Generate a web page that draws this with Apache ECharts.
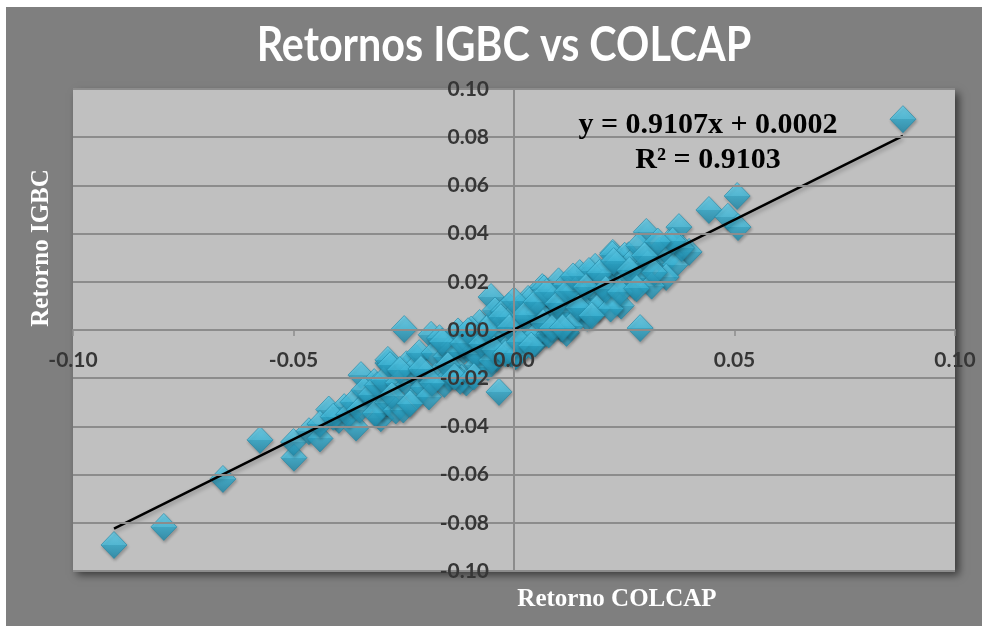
<!DOCTYPE html>
<html>
<head>
<meta charset="utf-8">
<script src="https://cdn.jsdelivr.net/npm/echarts@6/dist/echarts.min.js"></script>
<style>
  html, body { margin: 0; padding: 0; background: #ffffff; }
  #chart { position: absolute; left: 6px; top: 7px; width: 976px; height: 619px; }
</style>
</head>
<body>
<div id="chart"></div>
<script>
// retornos diarios
const colcapRet = [
  // extremos
  -0.0907, -0.0794, -0.0660, -0.0576, -0.0499, -0.0500, -0.0465, -0.0440, -0.0420, -0.0397,
  -0.0358, -0.0385, -0.0347, -0.0302, -0.0286, -0.0317, -0.0300, -0.0330, -0.0222, -0.0249,
  -0.0034, -0.0052, -0.0286, -0.0188, 0.0286, 0.0882, 0.0442, 0.0506, 0.0485, 0.0508,
  0.0397, 0.0374, 0.0300, 0.0350, 0.0330, 0.0224, 0.0260, 0.0290, 0.0240,
  -0.0440, -0.0410, -0.0375, -0.0365, -0.0350, -0.0340, -0.0325, -0.0315, -0.0310,
  0.0340, 0.0355, 0.0365, 0.0380, 0.0345, 0.0360,
  // nube central
  -0.0296, -0.0287, -0.0281, -0.0268, -0.0263, -0.0251, -0.0244, -0.0239, -0.0231, -0.0219,
  -0.0215, -0.0206, -0.0198, -0.0193, -0.0181, -0.0177, -0.0169, -0.0158, -0.0154, -0.0147,
  -0.0139, -0.0133, -0.0127, -0.0119, -0.0113, -0.0108, -0.0101, -0.0094, -0.0089, -0.0083,
  -0.0078, -0.0071, -0.0066, -0.0059, -0.0055, -0.0048, -0.0043, -0.0039, -0.0032, -0.0027,
  -0.0021, -0.0017, -0.0012, -0.0008, -0.0004,
  0.0003, 0.0009, 0.0014, 0.0021, 0.0025, 0.0032, 0.0037, 0.0041, 0.0048, 0.0053,
  0.0061, 0.0064, 0.0072, 0.0077, 0.0083, 0.0088, 0.0096, 0.0101, 0.0107, 0.0112,
  0.0119, 0.0124, 0.0131, 0.0137, 0.0142, 0.0149, 0.0153, 0.0161, 0.0166, 0.0172,
  0.0179, 0.0184, 0.0191, 0.0197, 0.0204, 0.0211, 0.0216, 0.0223, 0.0229, 0.0236,
  0.0243, 0.0251, 0.0258, 0.0266, 0.0274, 0.0283, 0.0291, 0.0303, 0.0312, 0.0326,
  -0.0143, -0.0122, -0.0097, -0.0086, -0.0069, -0.0051, -0.0036, -0.0024, -0.0015, -0.0005,
  0.0006, 0.0017, 0.0028, 0.0035, 0.0044, 0.0057, 0.0068, 0.0079, 0.0091, 0.0104,
  0.0116, 0.0128, 0.0139, 0.0157, 0.0170, 0.0188, 0.0201, 0.0219, 0.0233, 0.0247,
  -0.0277, -0.0259, -0.0236, -0.0211, -0.0186, -0.0163, -0.0150, -0.0135, -0.0116, -0.0104,
  -0.0091, -0.0074, -0.0062, -0.0045, -0.0030, -0.0019, -0.0010, 0.0000, 0.0012, 0.0023,
  0.0039, 0.0050, 0.0066, 0.0074, 0.0086, 0.0099, 0.0110, 0.0121, 0.0134, 0.0146,
  0.0163, 0.0176, 0.0194, 0.0208, 0.0226, 0.0240, 0.0262, 0.0278, 0.0296, 0.0318
];
const igbcRet = [
  -0.0892, -0.0817, -0.0618, -0.0456, -0.0530, -0.0465, -0.0420, -0.0450, -0.0330, -0.0373,
  -0.0405, -0.0320, -0.0187, -0.0366, -0.0137, -0.0216, -0.0320, -0.0290, -0.0116, 0.0004,
  -0.0257, 0.0137, -0.0124, -0.0020, 0.0008, 0.0875, 0.0498, 0.0556, 0.0470, 0.0427,
  0.0324, 0.0427, 0.0407, 0.0360, 0.0330, 0.0320, 0.0310, 0.0250, 0.0260,
  -0.0390, -0.0360, -0.0350, -0.0300, -0.0330, -0.0250, -0.0270, -0.0345, -0.0230,
  0.0280, 0.0310, 0.0270, 0.0340, 0.0220, 0.0370,
  -0.0209, -0.0301, -0.0146, -0.0334, -0.0219, -0.0330, -0.0142, -0.0227, -0.0170, -0.0269,
  -0.0096, -0.0237, -0.0180, -0.0276, -0.0095, -0.0191, -0.0034, -0.0224, -0.0110, -0.0194,
  -0.0066, -0.0161, -0.0006, -0.0198, -0.0083, -0.0218, -0.0012, -0.0096, -0.0041, -0.0146,
  0.0029, -0.0115, -0.0060, -0.0154, 0.0020, -0.0074, 0.0081, -0.0115, 0.0001, -0.0085,
  0.0041, -0.0055, 0.0099, -0.0097, 0.0016,
  -0.0110, 0.0088, 0.0003, 0.0059, -0.0047, 0.0129, -0.0016, 0.0037, -0.0056, 0.0118,
  0.0026, 0.0178, -0.0014, 0.0100, 0.0016, 0.0140, 0.0047, 0.0202, 0.0007, 0.0122,
  -0.0012, 0.0193, 0.0109, 0.0165, 0.0059, 0.0236, 0.0089, 0.0147, 0.0051, 0.0227,
  0.0133, 0.0262, 0.0094, 0.0209, 0.0126, 0.0252, 0.0157, 0.0313, 0.0118, 0.0235,
  0.0101, 0.0308, 0.0225, 0.0282, 0.0179, 0.0350, 0.0215, 0.0276, 0.0184, 0.0367,
  -0.0090, -0.0211, 0.0002, -0.0098, -0.0013, -0.0126, -0.0023, 0.0078, -0.0074, 0.0055,
  -0.0105, 0.0045, -0.0015, 0.0122, -0.0030, 0.0072, 0.0172, -0.0018, 0.0133, 0.0075,
  0.0186, 0.0016, 0.0166, 0.0093, 0.0245, 0.0091, 0.0193, 0.0089, 0.0272, 0.0195,
  -0.0272, -0.0166, -0.0305, -0.0162, -0.0219, -0.0048, -0.0147, -0.0193, -0.0056, -0.0005,
  -0.0193, -0.0057, 0.0004, -0.0081, 0.0053, -0.0097, 0.0011, 0.0122, -0.0049, 0.0061,
  -0.0065, 0.0116, 0.0030, 0.0157, 0.0008, 0.0110, 0.0010, 0.0160, 0.0222, 0.0093,
  0.0178, 0.0060, 0.0237, 0.0169, 0.0286, 0.0158, 0.0248, 0.0173, 0.0309, 0.0239
];

// línea de tendencia (del ajuste mostrado)
const slope = 0.9107;
const intercept = 0.0002;
const rSquared = 0.9103;

const points = colcapRet.map((x, i) => [x, igbcRet[i]]);
const xMin = Math.min(...colcapRet);
const xMax = Math.max(...colcapRet);
const trend = [[xMin, slope * xMin + intercept], [xMax, slope * xMax + intercept]];

const myChart = echarts.init(document.getElementById('chart'));

const gridLeft = 67, gridRight = 27, gridTop = 82, gridBottom = 55;
const gridW = 976 - gridLeft - gridRight;
const gridH = 619 - gridTop - gridBottom;

const labelStyle = {
    color: '#363636',
    fontFamily: 'Lato, "Open Sans", sans-serif',
    fontWeight: 'bold',
    fontSize: 21,
    hideOverlap: false,
    showMinLabel: true,
    showMaxLabel: true,
    formatter: (v) => v.toFixed(2),
};
const serifFont = '"Liberation Serif", "Times New Roman", serif';

const option = {
    backgroundColor: '#7f7f7f',
    animation: false,
    grid: {
        show: true,
        left: gridLeft,
        right: gridRight,
        top: gridTop,
        bottom: gridBottom,
        backgroundColor: '#c0c0c0',
        borderWidth: 0,
        shadowColor: 'rgba(0,0,0,0.55)',
        shadowBlur: 8,
        shadowOffsetX: 4,
        shadowOffsetY: 4,
    },
    // los ejes se cruzan en cero, como en Excel
    xAxis: {
        type: 'value',
        min: -0.1,
        max: 0.1,
        interval: 0.05,
        position: 'bottom',
        offset: -gridH / 2,
        z: 10,
        axisLine: { onZero: false, lineStyle: { color: '#8c8c8c', width: 2 } },
        axisTick: { show: true, length: 6, lineStyle: { color: '#8c8c8c', width: 1.5 } },
        axisLabel: Object.assign({ margin: 20, interval: 0 }, labelStyle),
        splitLine: { show: false },
    },
    yAxis: {
        type: 'value',
        min: -0.1,
        max: 0.1,
        interval: 0.02,
        position: 'left',
        offset: -gridW / 2,
        z: 10,
        axisLine: { onZero: false, lineStyle: { color: '#8c8c8c', width: 2 } },
        axisTick: { show: false },
        axisLabel: Object.assign({ margin: 25 }, labelStyle),
        splitLine: { show: true, lineStyle: { color: '#8c8c8c', width: 2 } },
    },
    graphic: [
        {
            type: 'text',
            x: 498,
            y: 39,
            scaleX: 0.86,
            style: {
                text: 'Retornos IGBC vs COLCAP',
                fill: '#ffffff',
                font: 'bold 48px Lato, "Open Sans", sans-serif',
                textAlign: 'center',
                textVerticalAlign: 'middle',
            },
        },
        {
            type: 'text',
            x: 36,
            y: 241,
            rotation: Math.PI / 2,
            style: {
                text: 'Retorno IGBC',
                fill: '#ffffff',
                font: 'bold 25px ' + serifFont,
                textAlign: 'center',
                textVerticalAlign: 'middle',
            },
        },
        {
            type: 'text',
            x: 611,
            y: 593,
            style: {
                text: 'Retorno COLCAP',
                fill: '#ffffff',
                font: 'bold 25px ' + serifFont,
                textAlign: 'center',
                textVerticalAlign: 'middle',
            },
        },
        {
            type: 'text',
            x: 702,
            y: 118,
            z: 100,
            style: {
                text: 'y = ' + slope.toFixed(4) + 'x + ' + intercept.toFixed(4),
                fill: '#000000',
                font: 'bold 30px ' + serifFont,
                textAlign: 'center',
                textVerticalAlign: 'middle',
            },
        },
        {
            type: 'text',
            x: 702,
            y: 153,
            z: 100,
            style: {
                text: 'R² = ' + rSquared.toFixed(4),
                fill: '#000000',
                font: 'bold 30px ' + serifFont,
                textAlign: 'center',
                textVerticalAlign: 'middle',
            },
        },
    ],
    series: [
        {
            type: 'scatter',
            data: points,
            symbol: 'diamond',
            symbolSize: [26, 27],
            itemStyle: {
                color: new echarts.graphic.LinearGradient(0, 0, 0, 1, [
                    { offset: 0, color: '#62d2f0' },
                    { offset: 0.5, color: '#42bfe1' },
                    { offset: 0.5, color: '#2eaacd' },
                    { offset: 1, color: '#1f8aab' },
                ]),
                borderColor: '#2388a6',
                borderWidth: 0.8,
                shadowColor: 'rgba(0,0,0,0.3)',
                shadowBlur: 3,
                shadowOffsetX: 1,
                shadowOffsetY: 2,
            },
            emphasis: { disabled: true },
        },
        {
            type: 'line',
            data: trend,
            symbol: 'none',
            z: 5,
            lineStyle: {
                color: '#000000',
                width: 2.5,
                shadowColor: 'rgba(0,0,0,0.3)',
                shadowBlur: 4,
                shadowOffsetY: 3,
            },
        },
    ],
};

myChart.setOption(option);
</script>
</body>
</html>
